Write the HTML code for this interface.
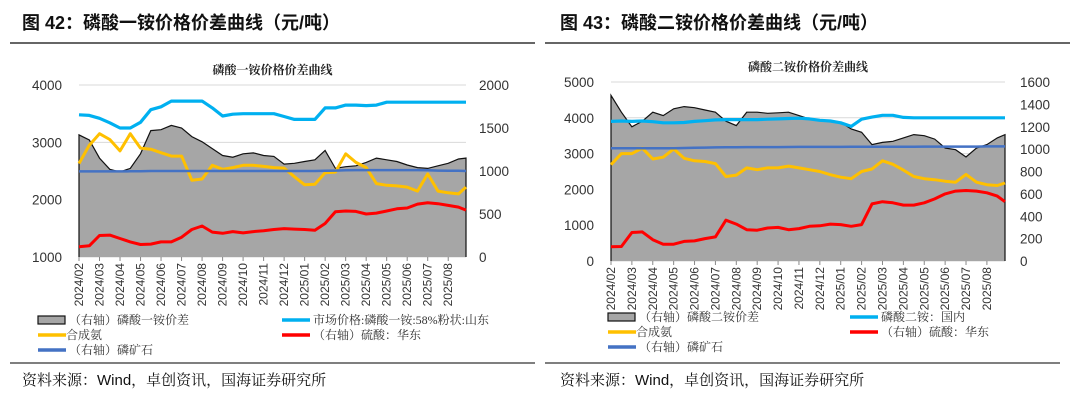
<!DOCTYPE html>
<html><head><meta charset="utf-8">
<style>
body{margin:0;width:1080px;height:402px;background:#fff;overflow:hidden;font-family:"Liberation Sans","Noto Sans CJK SC",sans-serif;}
svg{position:absolute;left:0;top:0;}
</style></head>
<body>
<svg id="svg" width="1080" height="402" viewBox="0 0 1080 402" xmlns="http://www.w3.org/2000/svg">
  <g>
    <text x="22" y="29" font-size="18" font-weight="bold" fill="#111" font-family="'Liberation Sans','Noto Sans CJK SC',sans-serif">图 42：磷酸一铵价格价差曲线（元/吨）</text>
    <line x1="10" y1="43" x2="535" y2="43" stroke="#333" stroke-width="1.5"/>
  </g>
  <g>
    <text x="560" y="29" font-size="18" font-weight="bold" fill="#111" font-family="'Liberation Sans','Noto Sans CJK SC',sans-serif">图 43：磷酸二铵价格价差曲线（元/吨）</text>
    <line x1="545" y1="43" x2="1070" y2="43" stroke="#333" stroke-width="1.5"/>
  </g>
  <g>
    <line x1="10" y1="363" x2="535" y2="363" stroke="#333" stroke-width="1.2"/>
    <text x="22" y="385" font-size="15" fill="#111" font-family="'Liberation Sans','Noto Serif CJK SC',serif">资料来源：Wind，卓创资讯，国海证券研究所</text>
  </g>
  <g>
    <line x1="545" y1="363" x2="1060" y2="363" stroke="#333" stroke-width="1.2"/>
    <text x="560" y="385" font-size="15" fill="#111" font-family="'Liberation Sans','Noto Serif CJK SC',serif">资料来源：Wind，卓创资讯，国海证券研究所</text>
  </g>
  <g id="chartL"></g>
  <g id="chartR"></g>
</svg>
<script>
// ---- shared categories ----
const monthTicks = ["2024/02","2024/03","2024/04","2024/05","2024/06","2024/07","2024/08","2024/09","2024/10","2024/11","2024/12","2025/01","2025/02","2025/03","2025/04","2025/05","2025/06","2025/07","2025/08"];
const dates = ["2024-02-01","2024-02-16","2024-03-01","2024-03-16","2024-04-01","2024-04-16","2024-05-01","2024-05-16","2024-06-01","2024-06-16","2024-07-01","2024-07-16","2024-08-01","2024-08-16","2024-09-01","2024-09-16","2024-10-01","2024-10-16","2024-11-01","2024-11-16","2024-12-01","2024-12-16","2025-01-01","2025-01-16","2025-02-01","2025-02-16","2025-03-01","2025-03-16","2025-04-01","2025-04-16","2025-05-01","2025-05-16","2025-06-01","2025-06-16","2025-07-01","2025-07-16","2025-08-01","2025-08-16","2025-08-27"];

// ---- left chart (MAP) ----
const mapLeftTicks = [1000,2000,3000,4000];
const mapRightTicks = [0,500,1000,1500,2000];
const mapSpread = [1420,1360,1150,1020,990,1030,1200,1470,1480,1530,1500,1400,1340,1260,1180,1160,1200,1210,1180,1170,1080,1090,1110,1130,1240,1030,1050,1060,1100,1150,1130,1110,1070,1040,1030,1060,1090,1140,1150];
const mapPrice = [3480,3470,3420,3340,3250,3250,3350,3570,3620,3720,3720,3720,3720,3600,3460,3490,3500,3500,3500,3500,3450,3400,3400,3400,3600,3600,3650,3650,3640,3650,3700,3700,3700,3700,3700,3700,3700,3700,3700];
const mapAmmonia = [2630,2950,3150,3050,2850,3150,2900,2880,2820,2760,2760,2340,2360,2600,2530,2560,2600,2600,2580,2560,2550,2400,2260,2270,2470,2480,2800,2650,2560,2280,2250,2240,2220,2150,2450,2150,2120,2100,2220];
const mapSulfuric = [120,130,250,255,215,175,145,150,175,175,230,320,360,290,275,295,280,295,305,320,330,325,320,310,390,525,535,530,500,510,535,560,570,615,630,620,600,580,545];
const mapRock = [995,995,995,995,995,997,998,1000,1000,1000,1000,1000,1000,1000,1000,1000,1000,1000,1000,1000,1000,1000,1000,1000,1002,1005,1008,1010,1010,1010,1010,1010,1010,1010,1008,1005,1003,1002,1000];

// ---- right chart (DAP) ----
const dapLeftTicks = [0,1000,2000,3000,4000,5000];
const dapRightTicks = [0,200,400,600,800,1000,1200,1400,1600];
const dapSpread = [1480,1330,1200,1250,1330,1300,1360,1380,1370,1350,1330,1250,1210,1330,1330,1320,1325,1330,1300,1270,1255,1250,1240,1180,1150,1040,1060,1070,1100,1130,1120,1090,1010,995,930,1010,1040,1100,1130];
const dapPrice = [3900,3910,3900,3910,3890,3860,3860,3870,3900,3920,3940,3950,3950,3950,3950,3960,3970,3980,3990,3970,3930,3910,3860,3760,3960,4020,4070,4070,4010,4000,4000,4000,4000,4000,4000,4000,4000,4000,4000];
const dapAmmonia = [2690,3000,3000,3150,2850,2900,3130,2870,2800,2780,2720,2360,2400,2600,2550,2600,2600,2650,2600,2550,2500,2410,2340,2300,2500,2570,2800,2700,2540,2360,2300,2270,2230,2200,2420,2200,2130,2110,2180];
const dapSulfuric = [128,130,255,260,190,150,150,175,180,200,215,365,330,280,275,295,300,280,290,310,315,330,325,310,325,510,530,520,500,500,520,555,600,625,630,625,610,580,530];
const dapRock = [1008,1008,1008,1008,1008,1008,1008,1010,1012,1014,1015,1016,1017,1018,1018,1018,1018,1019,1020,1020,1020,1020,1020,1021,1022,1022,1022,1022,1022,1022,1023,1023,1023,1023,1023,1023,1024,1024,1024];

const NS = "http://www.w3.org/2000/svg";
function mk(parent, tag, attrs){const e=document.createElementNS(NS,tag);for(const k in attrs)e.setAttribute(k,attrs[k]);parent.appendChild(e);return e;}
function monthPos(s){const p=s.split(/[-\/]/).map(Number);const d=p[2]||1;return (p[0]-2024)*12+(p[1]-2)+(d-1)/30;}

function drawChart(g, cfg){
  const X0=cfg.x0,X1=cfg.x1,Yt=cfg.yt,Yb=cfg.yb;
  const maxM = monthPos(dates[dates.length-1]);
  const xs = m => X0 + (m/maxM)*(X1-X0);
  const yl = v => Yb - (v-cfg.lMin)/(cfg.lMax-cfg.lMin)*(Yb-Yt);
  const yr = v => Yb - (v-cfg.rMin)/(cfg.rMax-cfg.rMin)*(Yb-Yt);
  const ff = "'Liberation Sans','Noto Sans CJK SC',sans-serif";
  const sf = "'Liberation Serif','Noto Serif CJK SC',serif";

  const title = mk(g,'text',{x:(X0+X1)/2,y:Yt-11,'text-anchor':'middle','font-size':12,'font-weight':'bold',fill:'#222','font-family':sf});
  title.textContent = cfg.title;
  
  

  // gridlines
  cfg.lTicks.forEach(v=>{
    const l=mk(g,'line',{x1:X0,x2:X1,y1:yl(v),y2:yl(v),stroke:'#d9d9d9','stroke-width':1});
    
    
    const t=mk(g,'text',{x:X0-17,y:yl(v)+5,'text-anchor':'end','font-size':13.5,fill:'#333','font-family':ff});
    t.textContent=v;
    
    
  });
  cfg.rTicks.forEach(v=>{
    const t=mk(g,'text',{x:X1+cfg.rLabelGap,y:yr(v)+5,'text-anchor':'start','font-size':13.5,fill:'#333','font-family':ff});
    t.textContent=v;
    
    
  });

  // spread area (right axis)
  let pts = dates.map((d,i)=>xs(monthPos(d)).toFixed(1)+','+yr(cfg.spread[i]).toFixed(1));
  const area=mk(g,'polygon',{points:X0+','+Yb+' '+pts.join(' ')+' '+X1+','+Yb,fill:'#a6a6a6',stroke:'none'});
  
  
  const outline=mk(g,'polyline',{points:X0+','+Yb+' '+pts.join(' ')+' '+X1+','+Yb,fill:'none',stroke:'#111','stroke-width':1.2});
  
  

  // x ticks
  monthTicks.forEach(m=>{
    const x=xs(monthPos(m));
    const tk=mk(g,'line',{x1:x,x2:x,y1:Yb,y2:Yb+4,stroke:'#888','stroke-width':1});
    
    
    const t=mk(g,'text',{x:0,y:0,'text-anchor':'end','font-size':12,fill:'#333','font-family':ff,transform:`translate(${x+4},${Yb+6}) rotate(-90)`});
    t.textContent=m;
    
    
  });

  function line(arr, scale, color, w, name){
    const p=dates.map((d,i)=>xs(monthPos(d)).toFixed(1)+','+scale(arr[i]).toFixed(1)).join(' ');
    const l=mk(g,'polyline',{points:p,fill:'none',stroke:color,'stroke-width':w,'stroke-linejoin':'round'});
    
    
  }
  line(cfg.price, yl, '#00b0f0', 3.2, 'market-price-line');
  line(cfg.sulfuric, yr, '#ff0000', 3, 'sulfuric-acid-line');
  line(cfg.ammonia, yl, '#ffc000', 3, 'synthetic-ammonia-line');
  line(cfg.rock, yr, '#4472c4', 2.5, 'phosphate-rock-line');

  // legend
  const L=cfg.legend;
  function legText(x,y,s,name){const t=mk(g,'text',{x:x,y:y+4,'font-size':12,fill:'#333','font-family':sf});t.textContent=s;}
  const box=mk(g,'rect',{x:L.x1,y:L.y-4,width:27,height:8,fill:'#a6a6a6',stroke:'#111','stroke-width':1.2});
  
  
  legText(L.x1+31,L.y,cfg.legSpread,'legend-entry-spread');
  const items=[[L.x2,L.y,'#00b0f0',cfg.legPrice,'legend-entry-market-price'],[L.x1,L.y+15,'#ffc000','合成氨','legend-entry-ammonia'],[L.x2,L.y+15,'#ff0000','（右轴）硫酸：华东','legend-entry-sulfuric-acid'],[L.x1,L.y+30,'#4472c4','（右轴）磷矿石','legend-entry-phosphate-rock']];
  items.forEach(it=>{
    const s=mk(g,'line',{x1:it[0],x2:it[0]+28,y1:it[1],y2:it[1],stroke:it[2],'stroke-width':3.5});
    
    
    legText(it[0]+(it[3]==='合成氨'?28:31),it[1],it[3],it[4]);
  });
}

drawChart(document.getElementById('chartL'),{x0:79,x1:466,yt:85,yb:257,lMin:1000,lMax:4000,rMin:0,rMax:2000,rLabelGap:13,
  lTicks:mapLeftTicks,rTicks:mapRightTicks,spread:mapSpread,price:mapPrice,ammonia:mapAmmonia,sulfuric:mapSulfuric,rock:mapRock,
  title:'磷酸一铵价格价差曲线',legSpread:'（右轴）磷酸一铵价差',legPrice:'市场价格:磷酸一铵:58%粉状:山东',legend:{x1:38,x2:282,y:320}});
drawChart(document.getElementById('chartR'),{x0:611,x1:1005,yt:82,yb:261,lMin:0,lMax:5000,rMin:0,rMax:1600,rLabelGap:15,
  lTicks:dapLeftTicks,rTicks:dapRightTicks,spread:dapSpread,price:dapPrice,ammonia:dapAmmonia,sulfuric:dapSulfuric,rock:dapRock,
  title:'磷酸二铵价格价差曲线',legSpread:'（右轴）磷酸二铵价差',legPrice:'磷酸二铵：国内',legend:{x1:608,x2:850,y:317}});
</script>
</body></html>
